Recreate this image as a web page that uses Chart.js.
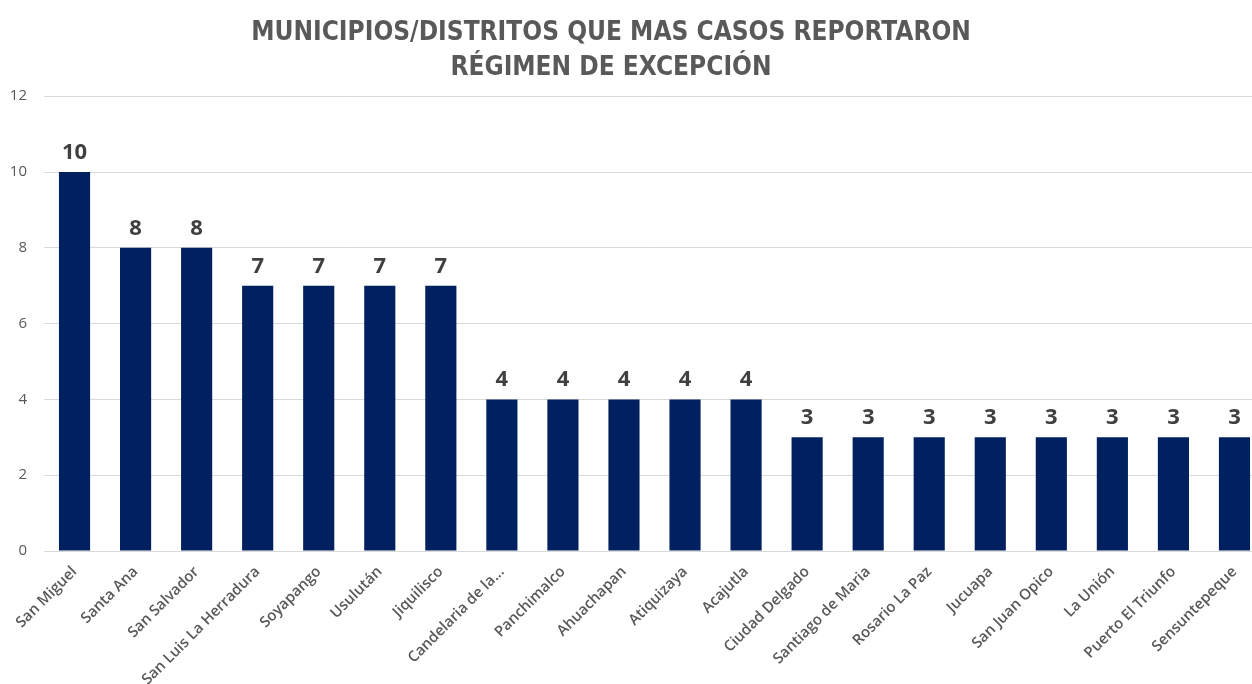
<!DOCTYPE html>
<html lang="es">
<head>
<meta charset="UTF-8">
<title>Municipios/Distritos que más casos reportaron</title>
<script src="https://cdn.jsdelivr.net/npm/chart.js"></script>
<style>
    body { margin: 0; background: #fff; overflow: hidden; }
    /* el gráfico original está recortado a la derecha: el lienzo sobresale del marco */
    .frame { width: 1252px; height: 684px; overflow: hidden; position: relative; }
    .wrap { width: 1308px; height: 684px; position: absolute; left: -43px; top: 0; }
</style>
</head>
<body>
<div class="frame"><div class="wrap"><canvas id="chart"></canvas></div></div>
<script>
const municipios = ['San Miguel', 'Santa Ana', 'San Salvador', 'San Luis La Herradura', 'Soyapango',
    'Usulután', 'Jiquilisco', 'Candelaria de la...', 'Panchimalco', 'Ahuachapan', 'Atiquizaya',
    'Acajutla', 'Ciudad Delgado', 'Santiago de Maria', 'Rosario La Paz', 'Jucuapa', 'San Juan Opico',
    'La Unión', 'Puerto El Triunfo', 'Sensuntepeque'];
const casos = [10, 8, 8, 7, 7, 7, 7, 4, 4, 4, 4, 4, 3, 3, 3, 3, 3, 3, 3, 3];
const titulo = ['MUNICIPIOS/DISTRITOS QUE MAS CASOS REPORTARON', 'RÉGIMEN DE EXCEPCIÓN'];
const yMax = 12;
const yStep = 2;

// etiquetas de valor encima de cada barra
const valueLabels = {
    id: 'valueLabels',
    afterDatasetsDraw(chart) {
        const ctx = chart.ctx;
        const meta = chart.getDatasetMeta(0);
        ctx.save();
        ctx.font = 'bold 22px "Open Sans", sans-serif';
        ctx.fillStyle = '#404040';
        ctx.textAlign = 'center';
        ctx.textBaseline = 'alphabetic';
        meta.data.forEach((bar, i) => {
            ctx.fillText(casos[i], bar.x, bar.y - 13);
        });
        ctx.restore();
    }
};

new Chart(document.getElementById('chart'), {
    type: 'bar',
    data: {
        labels: municipios,
        datasets: [{
            data: casos,
            backgroundColor: '#002060',
            borderWidth: 0,
            barPercentage: 0.51,
            categoryPercentage: 1
        }]
    },
    options: {
        responsive: true,
        maintainAspectRatio: false,
        animation: false,
        layout: { padding: 0 },
        plugins: {
            legend: { display: false },
            tooltip: { enabled: false },
            title: {
                display: true,
                text: titulo,
                color: '#595959',
                font: { family: '"Liberation Sans Narrow", "DejaVu Sans Condensed", "Open Sans", sans-serif', size: 26, weight: 'bold', lineHeight: 1.35 },
                padding: { top: 16, bottom: 10 }
            }
        },
        scales: {
            x: {
                grid: { display: false },
                border: { display: false },
                ticks: {
                    color: '#595959',
                    font: { family: '"Open Sans", sans-serif', size: 15, weight: '600' },
                    maxRotation: 45,
                    minRotation: 45,
                    autoSkip: false,
                    padding: 4
                },
                afterFit(scale) {
                    scale.height = 133;
                    scale.paddingLeft = 0;
                    scale.paddingRight = 0;
                }
            },
            y: {
                min: 0,
                max: yMax,
                border: { display: false },
                grid: { color: '#d9d9d9', drawTicks: false },
                ticks: {
                    stepSize: yStep,
                    color: '#595959',
                    font: { family: '"Open Sans", sans-serif', size: 15 },
                    padding: 17
                },
                afterFit(scale) {
                    scale.width = 87;
                }
            }
        }
    },
    plugins: [valueLabels]
});
</script>
</body>
</html>
